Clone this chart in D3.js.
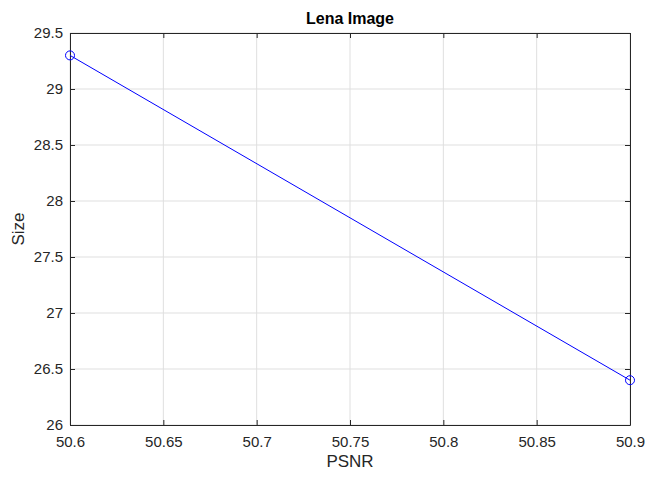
<!DOCTYPE html>
<html><head><meta charset="utf-8">
<script src="https://cdn.jsdelivr.net/npm/d3@7"></script>
<style>body{margin:0;background:#fff}svg{display:block}text{font-family:"Liberation Sans",Arial,sans-serif}</style>
</head><body>
<script>
const psnr = [50.6, 50.9];
const sizeVals = [29.3, 26.4];
const xTicks = [50.6, 50.65, 50.7, 50.75, 50.8, 50.85, 50.9];
const yTicks = [26, 26.5, 27, 27.5, 28, 28.5, 29, 29.5];
const title = "Lena Image", xLabel = "PSNR", yLabel = "Size";

const W = 647, H = 477;
const m = {l:70, t:33, r:17, b:52};
const svg = d3.select("body").append("svg").attr("width", W).attr("height", H);
const x = d3.scaleLinear().domain([50.6, 50.9]).range([m.l, W - m.r]);
const y = d3.scaleLinear().domain([26, 29.5]).range([H - m.b, m.t]);
const g = svg.append("g");
// grid
g.selectAll(".gx").data(xTicks).enter().append("line")
  .attr("x1", d=>x(d)).attr("x2", d=>x(d)).attr("y1", m.t).attr("y2", H-m.b)
  .attr("stroke", "#dfdfdf").attr("stroke-width", 1);
g.selectAll(".gy").data(yTicks).enter().append("line")
  .attr("y1", d=>y(d)).attr("y2", d=>y(d)).attr("x1", m.l).attr("x2", W-m.r)
  .attr("stroke", "#dfdfdf").attr("stroke-width", 1);
// axes
const fmt = d => String(+d.toFixed(2));
const ax = d3.axisBottom(x).tickValues(xTicks).tickFormat(fmt).tickSizeInner(-5).tickSizeOuter(0).tickPadding(11);
const ay = d3.axisLeft(y).tickValues(yTicks).tickFormat(fmt).tickSizeInner(-5).tickSizeOuter(0).tickPadding(7);
const axT = d3.axisTop(x).tickValues(xTicks).tickFormat("").tickSizeInner(-5).tickSizeOuter(0);
const ayR = d3.axisRight(y).tickValues(yTicks).tickFormat("").tickSizeInner(-5).tickSizeOuter(0);
function style(sel){
  sel.select(".domain").attr("stroke", "#262626").attr("stroke-width", 1);
  sel.selectAll(".tick line").attr("stroke", "#262626");
  sel.selectAll(".tick text").attr("fill", "#262626").style("font-size", "15px").style("font-family", '"Liberation Sans",Arial,sans-serif');
}
svg.append("g").attr("transform", `translate(0,${H-m.b})`).call(ax).call(style);
svg.append("g").attr("transform", `translate(${m.l},0)`).call(ay).call(style);
svg.append("g").attr("transform", `translate(0,${m.t})`).call(axT).call(style);
svg.append("g").attr("transform", `translate(${W-m.r},0)`).call(ayR).call(style);
// line
const data = psnr.map((p,i)=>({x:p, y:sizeVals[i]}));
svg.append("path").datum(data)
  .attr("d", d3.line().x(d=>x(d.x)).y(d=>y(d.y)))
  .attr("fill", "none").attr("stroke", "#0000ff").attr("stroke-width", 1);
svg.selectAll(".pt").data(data).enter().append("circle")
  .attr("cx", d=>x(d.x)).attr("cy", d=>y(d.y)).attr("r", 4.5)
  .attr("fill", "none").attr("stroke", "#0000ff").attr("stroke-width", 1);
// labels
svg.append("text").attr("x", (m.l + W - m.r)/2).attr("y", 24).attr("text-anchor", "middle")
  .style("font-size", "16px").style("font-weight", "bold").attr("fill", "#000").text(title);
svg.append("text").attr("x", (m.l + W - m.r)/2).attr("y", 467).attr("text-anchor", "middle")
  .style("font-size", "17px").attr("fill", "#262626").text(xLabel);
svg.append("text").attr("transform", `translate(24,${(m.t + H - m.b)/2}) rotate(-90)`).attr("text-anchor", "middle")
  .style("font-size", "17px").attr("fill", "#262626").text(yLabel);
</script>
</body></html>
